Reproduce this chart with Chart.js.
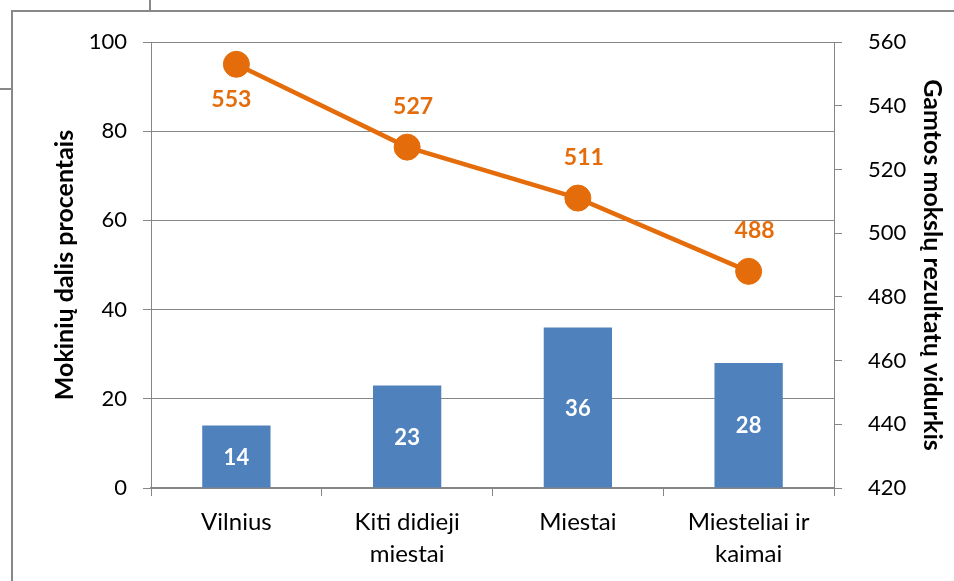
<!DOCTYPE html>
<html>
<head>
<meta charset="utf-8">
<script src="https://cdn.jsdelivr.net/npm/chart.js@4/dist/chart.umd.min.js"></script>
<style>
  html, body { margin: 0; padding: 0; background: #fff; }
  #wrap { width: 954px; height: 581px; position: relative; }
</style>
</head>
<body>
<div id="wrap"><canvas id="c" width="954" height="581"></canvas></div>
<script>
// Categories (multi-line labels as arrays)
const categories = [['Vilnius'], ['Kiti didieji', 'miestai'], ['Miestai'], ['Miesteliai ir', 'kaimai']];
// Share of pupils, percent (left axis)
const pupilShare = [14, 23, 36, 28];
// Mean science score (right axis)
const scienceMean = [553, 527, 511, 488];
// Where each score label sits relative to its point
const scoreLabelSide = ['below', 'above', 'above', 'above'];

const leftTitle = 'Mokinių dalis procentais';
const rightTitle = 'Gamtos mokslų rezultatų vidurkis';

const BLUE = '#4F81BD';
const ORANGE = '#E46C0A';
const GRID = '#868686';
const FONT = 'Lato, "Open Sans", sans-serif';

// Outer frame lines around the chart box
const framePlugin = {
  id: 'frame',
  beforeDraw(chart) {
    const ctx = chart.ctx;
    ctx.save();
    ctx.fillStyle = '#fff';
    ctx.fillRect(0, 0, chart.width, chart.height);
    ctx.strokeStyle = '#888888';
    ctx.lineWidth = 2;
    ctx.beginPath();
    ctx.moveTo(12, chart.height); ctx.lineTo(12, 11); ctx.lineTo(chart.width, 11);
    ctx.moveTo(150, 0); ctx.lineTo(150, 11);
    ctx.moveTo(0, 89); ctx.lineTo(12, 89);
    ctx.stroke();
    ctx.restore();
  }
};

// Value labels: white inside bars, orange next to line points
const valueLabels = {
  id: 'valueLabels',
  afterDatasetsDraw(chart) {
    const ctx = chart.ctx;
    ctx.save();
    ctx.textAlign = 'center';
    ctx.textBaseline = 'middle';
    ctx.font = 'bold 22px ' + FONT;
    chart.getDatasetMeta(1).data.forEach((bar, i) => {
      ctx.fillStyle = '#fff';
      ctx.fillText(String(pupilShare[i]), bar.x, (bar.y + bar.base) / 2 + 1);
    });
    ctx.font = 'bold 23px ' + FONT;
    chart.getDatasetMeta(0).data.forEach((pt, i) => {
      ctx.fillStyle = ORANGE;
      const below = scoreLabelSide[i] === 'below';
      ctx.fillText(String(scienceMean[i]), pt.x + (below ? -5 : 6), pt.y + (below ? 35 : -41));
    });
    ctx.restore();
  }
};

new Chart(document.getElementById('c'), {
  data: {
    labels: categories,
    datasets: [
      {
        type: 'line',
        label: rightTitle,
        data: scienceMean,
        yAxisID: 'yR',
        borderColor: ORANGE,
        backgroundColor: ORANGE,
        borderWidth: 4.5,
        pointRadius: 13,
        pointBorderWidth: 1,
        pointBackgroundColor: ORANGE,
        pointBorderColor: ORANGE,
        tension: 0,
        order: 0
      },
      {
        type: 'bar',
        label: leftTitle,
        data: pupilShare,
        yAxisID: 'yL',
        backgroundColor: BLUE,
        barPercentage: 0.4,
        categoryPercentage: 1,
        order: 1
      }
    ]
  },
  options: {
    responsive: false,
    animation: false,
    events: [],
    layout: { padding: { left: 0, right: 0, top: 42, bottom: 0 } },
    plugins: { legend: { display: false }, tooltip: { enabled: false } },
    scales: {
      x: {
        grid: { offset: true, drawOnChartArea: false, drawTicks: true, tickLength: 8, color: GRID, lineWidth: 1 },
        border: { color: GRID, width: 2 },
        ticks: { color: '#000', font: { family: FONT, size: 24, lineHeight: 1.33 }, padding: 10, maxRotation: 0 },
        afterFit(s) { s.height = 93; }
      },
      yL: {
        position: 'left',
        min: 0, max: 100,
        ticks: { stepSize: 20, color: '#000', font: { family: FONT, size: 22 }, padding: 16 },
        grid: { color: GRID, lineWidth: 1, tickLength: 8 },
        border: { color: GRID, width: 1 },
        title: { display: true, text: leftTitle, color: '#000', font: { family: FONT, size: 25, weight: 'bold' }, padding: { top: 50, bottom: 0 } },
        afterFit(s) { s.width = 151; }
      },
      yR: {
        position: 'right',
        min: 420, max: 560,
        ticks: { stepSize: 20, color: '#000', font: { family: FONT, size: 22 }, padding: 26 },
        grid: { drawOnChartArea: false, color: GRID, lineWidth: 1, tickLength: 8 },
        border: { color: GRID, width: 1 },
        title: { display: true, text: rightTitle, color: '#000', font: { family: FONT, size: 25, weight: 'bold' }, padding: { top: 7, bottom: 0 } },
        afterFit(s) { s.width = 120; }
      }
    }
  },
  plugins: [framePlugin, valueLabels]
});
</script>
</body>
</html>
